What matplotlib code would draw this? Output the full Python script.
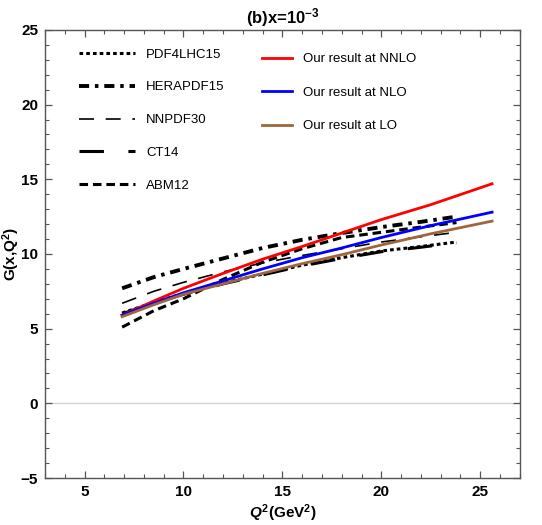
import numpy as np
import matplotlib.pyplot as plt
from matplotlib.ticker import MultipleLocator

plt.rcParams['font.family'] = ['Liberation Sans', 'DejaVu Sans']
plt.rcParams['mathtext.fontset'] = 'custom'
plt.rcParams['mathtext.rm'] = 'Liberation Sans:bold'
plt.rcParams['mathtext.it'] = 'Liberation Sans:bold:italic'
plt.rcParams['mathtext.bf'] = 'Liberation Sans:bold'

# Q^2 grids
q2_pdf = [6.9, 8.5, 10, 12, 14, 16, 18, 20, 22, 23.8]
q2_ours = [6.9, 8.5, 10, 12, 14, 16, 18, 20, 22.5, 25.6]

pdf4lhc15 = [6.05, 6.75, 7.35, 8.05, 8.65, 9.25, 9.75, 10.2, 10.5, 10.8]
herapdf15 = [7.7, 8.45, 9.0, 9.7, 10.4, 10.95, 11.4, 11.8, 12.15, 12.5]
nnpdf30 = [6.7, 7.5, 8.1, 8.8, 9.4, 9.9, 10.35, 10.8, 11.15, 11.45]
ct14 = [6.0, 6.7, 7.3, 8.0, 8.6, 9.2, 9.7, 10.15, 10.45, 10.75]
abm12 = [5.1, 6.2, 7.0, 8.3, 9.45, 10.35, 11.1, 11.45, 11.8, 12.1]

nnlo = [5.9, 6.85, 7.7, 8.7, 9.65, 10.5, 11.4, 12.3, 13.3, 14.7]
nlo = [5.9, 6.7, 7.4, 8.2, 9.0, 9.75, 10.4, 11.1, 11.9, 12.8]
lo = [5.8, 6.6, 7.3, 8.0, 8.7, 9.35, 9.95, 10.6, 11.35, 12.2]

pdf_names = ['PDF4LHC15', 'HERAPDF15', 'NNPDF30', 'CT14', 'ABM12']
our_names = ['Our result at NNLO', 'Our result at NLO', 'Our result at LO']
xticks = [5, 10, 15, 20, 25]
yticks = [-5, 0, 5, 10, 15, 20, 25]

fig = plt.figure(figsize=(5.42, 5.25), dpi=100)
ax = fig.add_axes([0.083, 0.0895, 0.876, 0.8535])

ax.axhline(0, color='#d0d0d0', lw=0.9, zorder=0)

l1, = ax.plot(q2_pdf, pdf4lhc15, color='black', lw=2.2, ls=(0, (1.2, 1.0)))
l2, = ax.plot(q2_pdf, herapdf15, color='black', lw=2.8, ls=(0, (2.6, 1.5, 0.9, 1.5)))
l3, = ax.plot(q2_pdf, nnpdf30, color='black', lw=1.2, ls=(0, (9, 7)))
l4, = ax.plot(q2_pdf, ct14, color='black', lw=2.2, ls=(0, (8, 8)))
l5, = ax.plot(q2_pdf, abm12, color='black', lw=2.2, ls=(0, (2.8, 1.6)))

r1, = ax.plot(q2_ours, nnlo, color='#ff0000', lw=2)
r2, = ax.plot(q2_ours, nlo, color='#0000ff', lw=2)
r3, = ax.plot(q2_ours, lo, color='#a0663a', lw=2)

ax.set_xlim(3, 27)
ax.set_ylim(-5, 25)
ax.xaxis.set_minor_locator(MultipleLocator(1))
ax.yaxis.set_minor_locator(MultipleLocator(1))
ax.tick_params(which='both', direction='in', top=True, right=True, color='#555555')
ax.tick_params(which='major', length=5, width=0.9, labelsize=11, pad=5)
ax.tick_params(which='minor', length=3, width=0.8)
ax.set_yticks(yticks)
ax.set_yticklabels([str(v).replace('-', '\u2212') for v in yticks], fontweight='bold')
ax.set_xticks(xticks)
ax.set_xticklabels([str(v) for v in xticks], fontweight='bold')
for s in ax.spines.values():
    s.set_color('#555555')
    s.set_linewidth(1.0)

ax.set_xlabel(r'$Q^2$(GeV$^2$)', fontsize=11, fontweight='bold')
ax.xaxis.set_label_coords(0.5, -0.055)
ax.set_ylabel(r'G(x,Q$^2$)', fontsize=11, fontweight='bold')
ax.yaxis.set_label_coords(-0.048, 0.5)
ax.set_title(r'(b)x=10$^{-3}$', fontsize=12, fontweight='bold', pad=5)

leg1 = ax.legend([l1, l2, l3, l4, l5], pdf_names,
                 loc='upper left', bbox_to_anchor=(0.046, 0.985), frameon=False,
                 fontsize=9.5, handlelength=4.3, handletextpad=0.8, labelspacing=1.55)
ax.add_artist(leg1)
ax.legend([r1, r2, r3], our_names,
          loc='upper left', bbox_to_anchor=(0.432, 0.975), frameon=False,
          fontsize=9.5, handlelength=2.3, handletextpad=0.8, labelspacing=1.62)

fig.savefig('out.png', dpi=100)
